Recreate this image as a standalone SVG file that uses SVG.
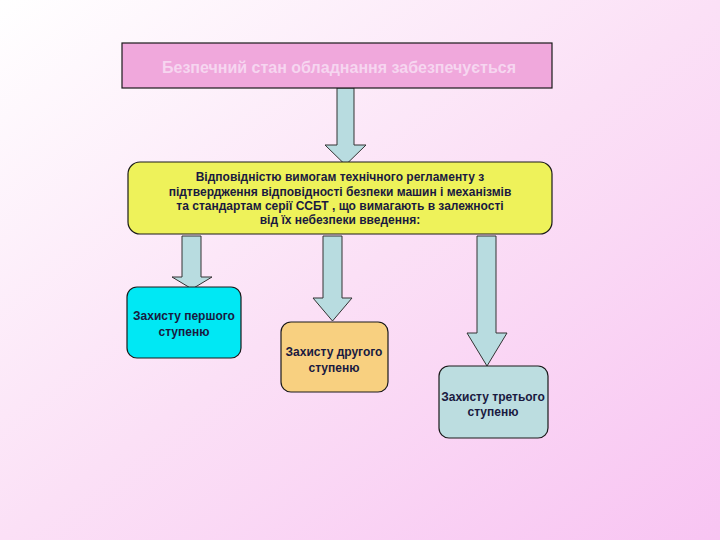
<svg xmlns="http://www.w3.org/2000/svg" width="720" height="540" viewBox="0 0 720 540">
<defs>
<linearGradient id="bg" x1="0" y1="0" x2="1" y2="1">
<stop offset="0" stop-color="#ffffff"/>
<stop offset="0.5" stop-color="#fbe0f6"/>
<stop offset="1" stop-color="#f8c4f2"/>
</linearGradient>
<style>
.box{stroke:#1a1a1a;stroke-width:1.2}
.arr{fill:#b8dce0;stroke:#333;stroke-width:1}
text{font-family:"Liberation Sans",Arial,sans-serif;font-weight:bold;text-anchor:middle}
.t1{font-size:16px;fill:#f6d6f0}
.t2{font-size:12px;fill:#1a1a40}
.t3{font-size:12px;fill:#1a1a40}
</style>
</defs>
<rect width="720" height="540" fill="url(#bg)"/>
<g id="connectors">
<polygon class="arr" points="337,88 354,88 354,145 366,145 345.5,165 325,145 337,145"/>
<polygon class="arr" points="182,236 201,236 201,277 212,277 192,289 172,277 182,277"/>
<polygon class="arr" points="323,236 342,236 342,298 352,298 332.5,321 313,298 323,298"/>
<polygon class="arr" points="477,236 496,236 496,333 507,333 487,366 467,333 477,333"/>
</g>
<g id="top">
<rect class="box" x="122" y="43" width="430" height="45" fill="#f0a8dc"/>
<text class="t1" x="339" y="73">Безпечний стан обладнання забезпечується</text>
</g>
<g id="mid">
<rect class="box" x="128" y="162" width="424" height="72" rx="12" fill="#eef25a"/>
<text class="t2" x="340" y="181">Відповідністю вимогам технічного регламенту з</text>
<text class="t2" x="340" y="196">підтвердження відповідності безпеки машин і механізмів</text>
<text class="t2" x="340" y="210">та стандартам серії ССБТ , що вимагають в залежності</text>
<text class="t2" x="340" y="224">від їх небезпеки введення:</text>
</g>
<g id="step1">
<rect class="box" x="127" y="287" width="114" height="71" rx="10" fill="#00e8f4"/>
<text class="t3" x="184" y="320">Захисту першого</text>
<text class="t3" x="184" y="336">ступеню</text>
</g>
<g id="step2">
<rect class="box" x="281" y="322" width="107" height="70" rx="10" fill="#f8d080"/>
<text class="t3" x="334" y="356">Захисту другого</text>
<text class="t3" x="334" y="372">ступеню</text>
</g>
<g id="step3">
<rect class="box" x="439" y="366" width="109" height="72" rx="10" fill="#bcdde0"/>
<text class="t3" x="493" y="401">Захисту третього</text>
<text class="t3" x="493" y="416">ступеню</text>
</g>
</svg>
